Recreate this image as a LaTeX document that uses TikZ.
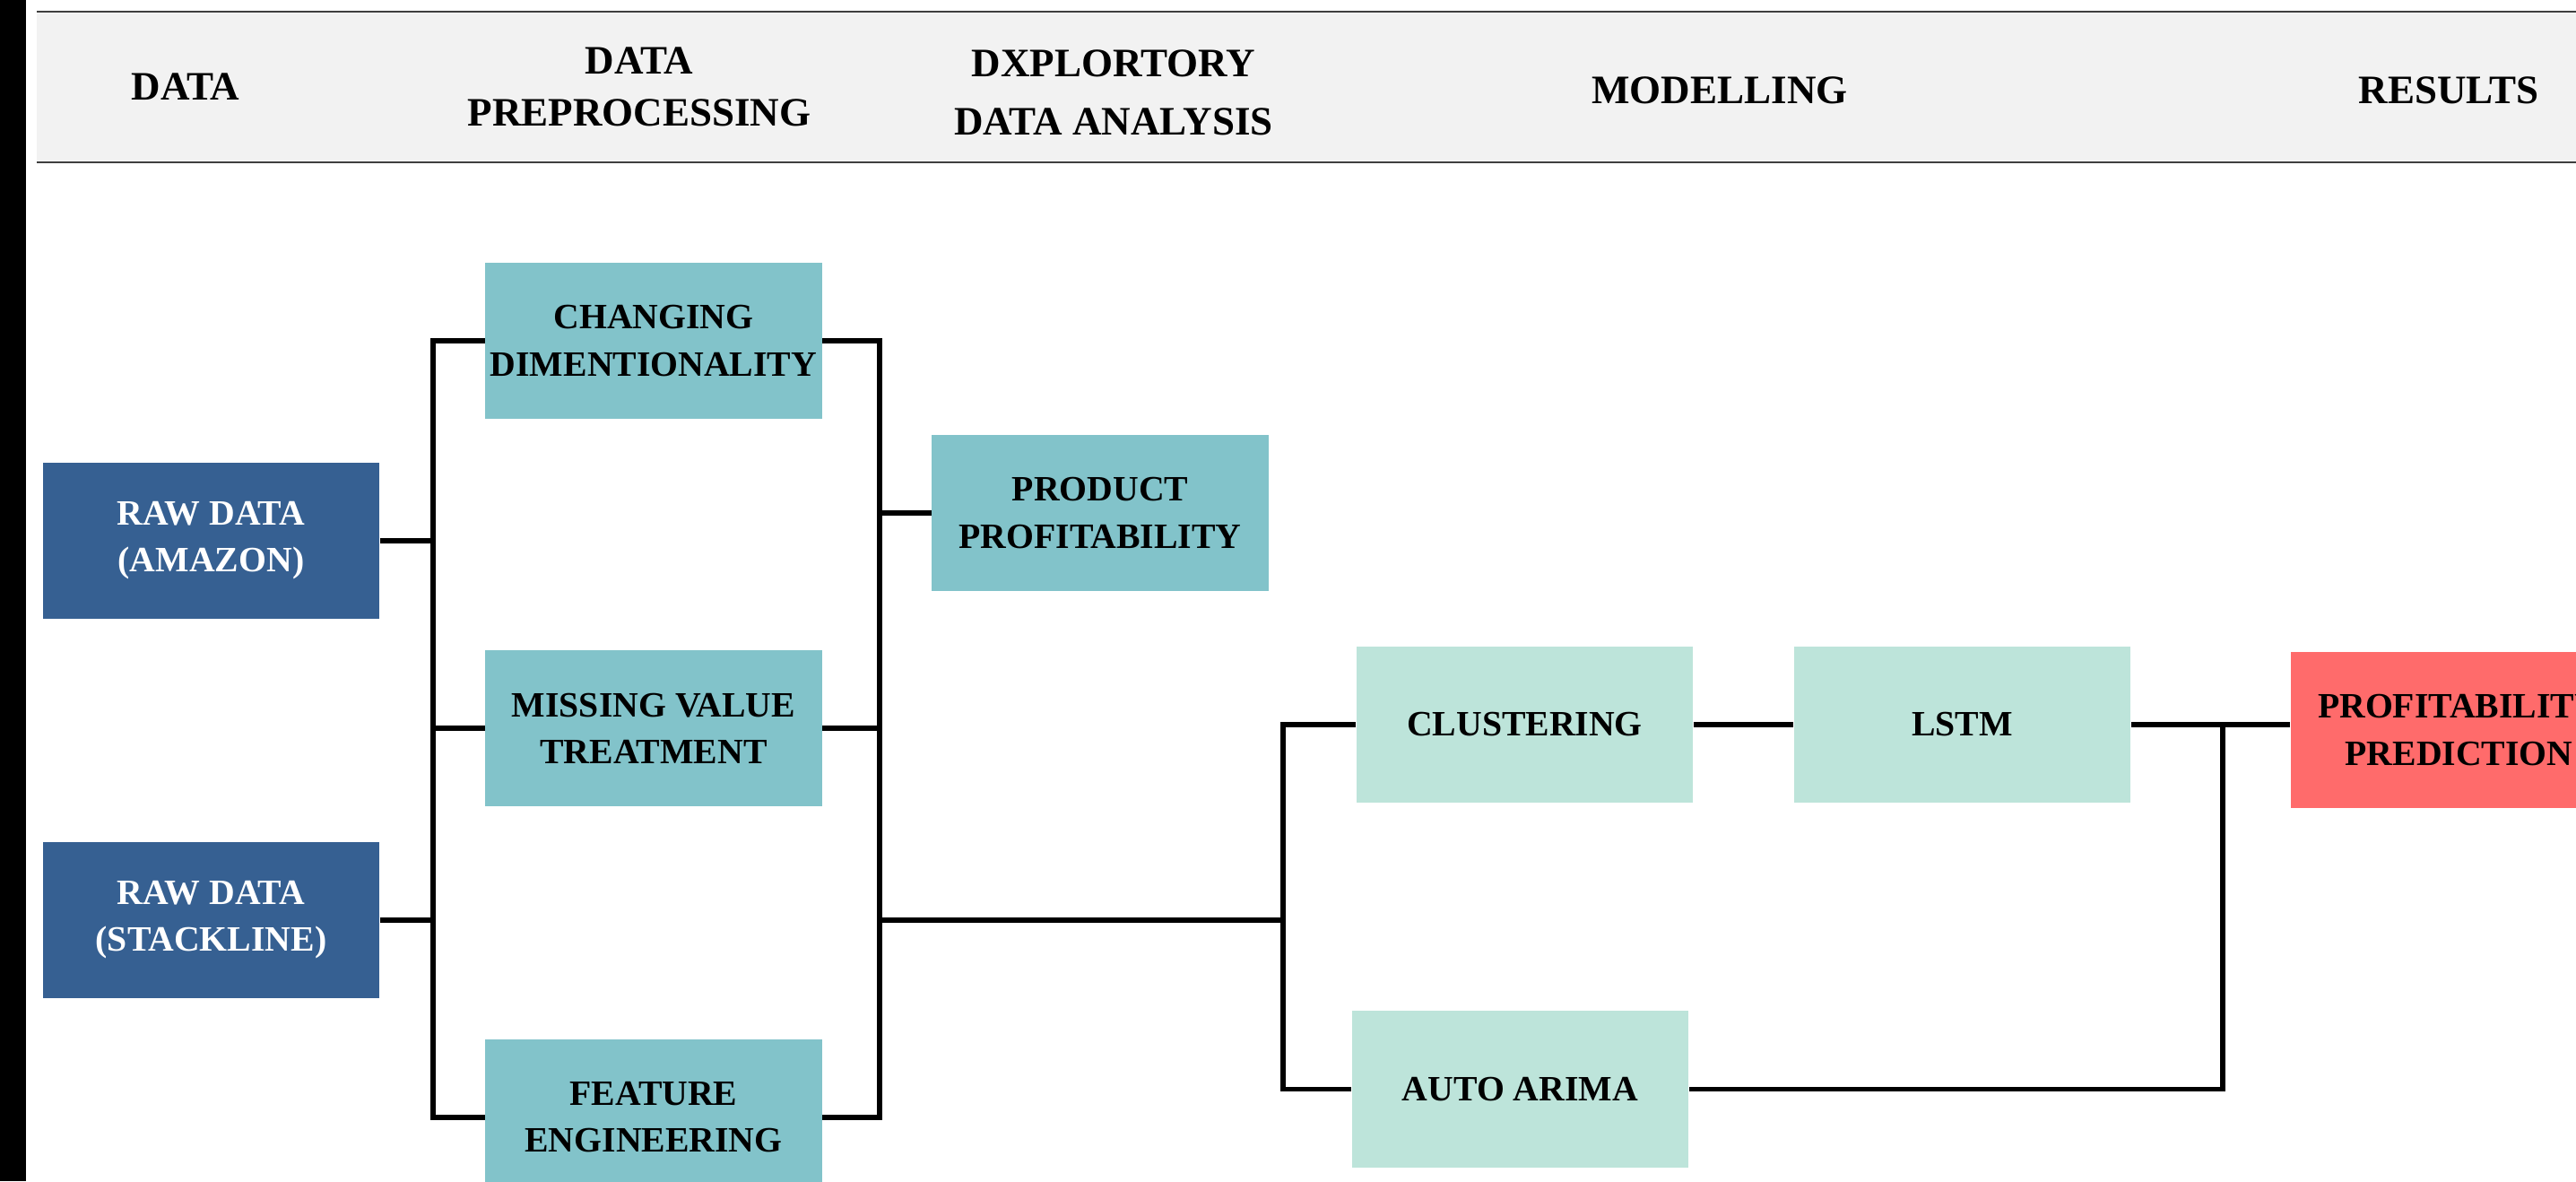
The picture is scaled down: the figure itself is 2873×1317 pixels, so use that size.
\documentclass[tikz,border=0pt]{standalone}
\usepackage{fontspec}
\setmainfont{Liberation Serif}
\definecolor{rawblue}{HTML}{366092}
\definecolor{prepteal}{HTML}{82C3CA}
\definecolor{modelmint}{HTML}{BDE4DA}
\definecolor{resultred}{HTML}{FF6B6B}
\definecolor{bandgray}{HTML}{F2F2F2}
\definecolor{bandline}{HTML}{3F3F3F}
\tikzset{
  box/.style={rectangle, inner sep=0pt, minimum width=3.75cm, minimum height=1.74cm,
    align=center, font=\fontsize{11.3pt}{14.8pt}\selectfont\bfseries},
  rawbox/.style={box, fill=rawblue, text=white},
  prepbox/.style={box, fill=prepteal, text=black},
  modelbox/.style={box, fill=modelmint, text=black},
  resultbox/.style={box, fill=resultred, text=black},
  headlabel/.style={align=center, inner sep=0pt, font=\fontsize{12.8pt}{16.5pt}\selectfont\bfseries},
  conn/.style={draw=black, line width=1.5pt}
}
\begin{document}
\begin{tikzpicture}[x=0.01cm, y=-0.01cm]
  \useasboundingbox (0,0) rectangle (2873,1317);
  \fill[white] (0,0) rectangle (2873,1317);
  \clip (0,0) rectangle (2873,1317);

  % left margin bar
  \fill[black] (0,0) rectangle (29,1317);

  % header band with stage titles
  \fill[bandgray] (41,13) rectangle (2880,181);
  \draw[bandline, line width=0.6pt] (41,13) -- (2880,13);
  \draw[bandline, line width=0.6pt] (41,181) -- (2880,181);
  \node[headlabel] (hData)  at (207,97)  {DATA};
  \node[headlabel] (hPrep)  at (713,97)  {DATA\\PREPROCESSING};
  \node[headlabel, font=\fontsize{12.8pt}{18.5pt}\selectfont\bfseries] (hEda) at (1242,103) {DXPLORTORY\\DATA ANALYSIS};
  \node[headlabel] (hModel) at (1918,101) {MODELLING};
  \node[headlabel] (hRes)   at (2731,101) {RESULTS};

  % process boxes
  \node[rawbox]    (amz)  at (235.5,603)  {RAW DATA\\(AMAZON)};
  \node[rawbox]    (stk)  at (235.5,1026) {RAW DATA\\(STACKLINE)};
  \node[prepbox]   (chg)  at (729,380)    {CHANGING\\DIMENTIONALITY};
  \node[prepbox]   (mis)  at (729,812)    {MISSING VALUE\\TREATMENT};
  \node[prepbox]   (feat) at (729,1246)   {FEATURE\\ENGINEERING};
  \node[prepbox]   (prod) at (1227,572)   {PRODUCT\\PROFITABILITY};
  \node[modelbox]  (clu)  at (1700.5,808) {CLUSTERING};
  \node[modelbox]  (lstm) at (2188.5,808) {LSTM};
  \node[modelbox]  (ari)  at (1695.5,1214.5) {AUTO ARIMA};
  \node[resultbox] (pred) at (2742.5,814) {PROFITABILITY\\PREDICTION};

  % vertical bus positions
  \coordinate (lb) at (483,0);
  \coordinate (rb) at (981,0);
  \coordinate (mj) at (1431,0);
  \coordinate (rj) at (2479,0);

  % data -> preprocessing
  \draw[conn] (chg.west) -- (chg.west -| lb) -- (feat.west -| lb) -- (feat.west);
  \draw[conn] (amz.east) -- (amz.east -| lb);
  \draw[conn] (stk.east) -- (stk.east -| lb);
  \draw[conn] (mis.west -| lb) -- (mis.west);

  % preprocessing -> analysis
  \draw[conn] (chg.east) -- (chg.east -| rb) -- (feat.east -| rb) -- (feat.east);
  \draw[conn] (mis.east) -- (mis.east -| rb);
  \draw[conn] (prod.west -| rb) -- (prod.west);

  % preprocessing -> modelling
  \draw[conn] (stk.east -| rb) -- (stk.east -| mj);
  \draw[conn] (clu.west) -- (clu.west -| mj) -- (ari.west -| mj) -- (ari.west);
  \draw[conn] (clu.east) -- (lstm.west);

  % modelling -> results
  \draw[conn] (lstm.east) -- (lstm.east -| pred.west);
  \draw[conn] (lstm.east -| rj) -- (ari.east -| rj) -- (ari.east);
\end{tikzpicture}
\end{document}
